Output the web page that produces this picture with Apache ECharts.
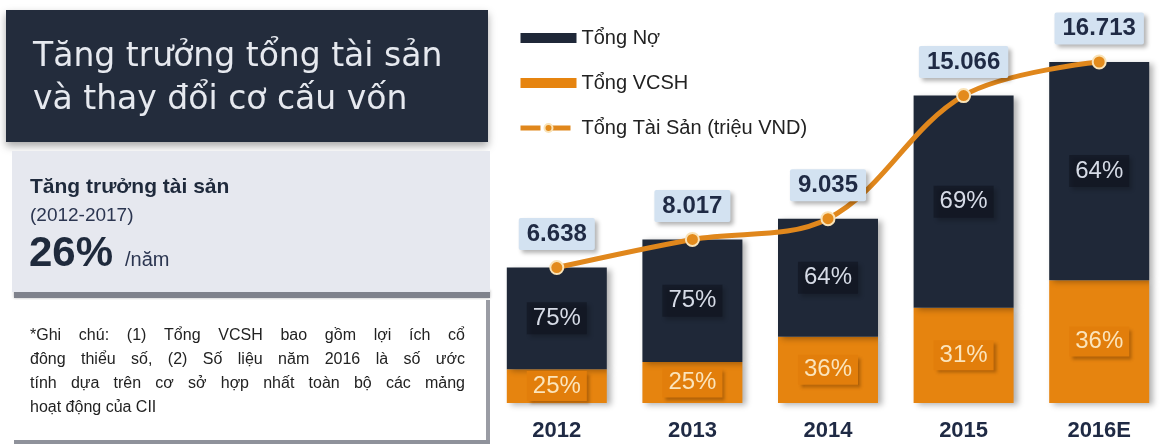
<!DOCTYPE html>
<html>
<head>
<meta charset="utf-8">
<script src="https://cdn.jsdelivr.net/npm/echarts@6/dist/echarts.min.js"></script>
<style>
  html, body { margin: 0; padding: 0; background: #fff; }
  #chart { width: 1167px; height: 446px; }
</style>
</head>
<body>
<div id="chart"></div>
<script>
// data
const years = ['2012', '2013', '2014', '2015', '2016E'];
const totalAssets = [6638, 8017, 9035, 15066, 16713];   // triệu VND
const debt = [4979, 6013, 5782, 10396, 10696];
const equity = [1659, 2004, 3253, 4670, 6017];
const debtPct = ['75%', '75%', '64%', '69%', '64%'];
const equityPct = ['25%', '25%', '36%', '31%', '36%'];

const noteLines = [
  '*Ghi chú: (1) Tổng VCSH bao gồm lợi ích cổ',
  'đông thiểu số, (2) Số liệu năm 2016 là số ước',
  'tính dựa trên cơ sở hợp nhất toàn bộ các mảng',
  'hoạt động của CII'
];

const NAVY = '#1f2838';
const ORANGE = '#e6840f';
const FONT = '"Liberation Sans", Arial, sans-serif';
const NOTE_FONT = '16px ' + FONT;

let chartDom = document.getElementById('chart');
let myChart = echarts.init(chartDom, null, { renderer: 'canvas' });

function fmtVN(v) {
  return (v / 1000).toFixed(3);
}

// justified note text: spread words of a line over the box width
let measureCtx = document.createElement('canvas').getContext('2d');
measureCtx.font = NOTE_FONT;
function noteLine(text, x, y, width, justify) {
  if (!justify) {
    return [{ type: 'text', left: x, top: y, z: 10, style: { text: text, fill: '#222', font: NOTE_FONT } }];
  }
  let words = text.split(' ');
  let wordW = words.map(function (w) { return measureCtx.measureText(w).width; });
  let total = wordW.reduce(function (a, b) { return a + b; }, 0);
  let gap = (width - total) / (words.length - 1);
  let cx = x;
  return words.map(function (w, i) {
    let el = { type: 'text', x: cx, y: y, z: 10, style: { text: w, fill: '#222', font: NOTE_FONT } };
    cx += wordW[i] + gap;
    return el;
  });
}

let noteTexts = [];
noteLines.forEach(function (t, i) {
  noteTexts = noteTexts.concat(noteLine(t, 30, 328 + i * 24, 435, i < noteLines.length - 1));
});

let option = {
  backgroundColor: '#fff',
  animation: false,
  textStyle: { fontFamily: FONT },
  legend: {
    orient: 'vertical',
    left: 513,
    top: 23,
    itemWidth: 56,
    itemHeight: 10,
    itemGap: 25,
    textStyle: { fontSize: 20, color: '#222', fontFamily: FONT },
    data: [
      { name: 'Tổng Nợ', icon: 'rect' },
      { name: 'Tổng VCSH', icon: 'rect' },
      { name: 'Tổng Tài Sản (triệu VND)', lineStyle: { type: 'dashed', width: 5 } }
    ]
  },
  grid: { left: 489, width: 690, top: 62, bottom: 43 },
  xAxis: {
    type: 'category',
    data: years,
    axisLine: { show: false },
    axisTick: { show: false },
    axisLabel: { margin: 17, fontSize: 22, fontWeight: 'bold', color: '#1f2a44', fontFamily: FONT }
  },
  yAxis: {
    type: 'value',
    min: 0,
    max: Math.max.apply(null, totalAssets),
    show: false,
    splitLine: { show: false }
  },
  series: [
    {
      name: 'Tổng VCSH',
      type: 'bar',
      stack: 'tong',
      barWidth: 100,
      data: equity,
      itemStyle: { color: ORANGE, shadowBlur: 6, shadowOffsetX: 4, shadowOffsetY: 2, shadowColor: 'rgba(0,0,0,0.3)' },
      label: {
        show: true, position: 'inside',
        formatter: function (p) { return equityPct[p.dataIndex]; },
        fontSize: 24, color: '#fbe4bb', fontFamily: FONT,
        backgroundColor: '#e27e0b', padding: [3, 6],
        shadowBlur: 3, shadowOffsetX: 3, shadowOffsetY: 3, shadowColor: 'rgba(110,55,0,0.45)'
      }
    },
    {
      name: 'Tổng Nợ',
      type: 'bar',
      stack: 'tong',
      barWidth: 100,
      data: debt,
      itemStyle: { color: NAVY, shadowBlur: 6, shadowOffsetX: 4, shadowOffsetY: 2, shadowColor: 'rgba(0,0,0,0.3)' },
      label: {
        show: true, position: 'inside',
        formatter: function (p) { return debtPct[p.dataIndex]; },
        fontSize: 24, color: '#d6dbe6', fontFamily: FONT,
        backgroundColor: 'rgba(14,19,30,0.55)', padding: [4, 6],
        shadowBlur: 4, shadowOffsetX: 3, shadowOffsetY: 3, shadowColor: 'rgba(0,0,0,0.35)'
      }
    },
    {
      name: 'Tổng Tài Sản (triệu VND)',
      type: 'line',
      data: totalAssets,
      smooth: 0.35,
      z: 5,
      symbol: 'circle',
      symbolSize: 13,
      lineStyle: { color: '#e0871c', width: 5 },
      itemStyle: { color: '#e38b1c', borderColor: '#f9e3b8', borderWidth: 2 },
      label: {
        show: true, position: 'top', distance: 10,
        formatter: function (p) { return fmtVN(p.value); },
        fontSize: 24, fontWeight: 'bold', color: '#1f2a44', fontFamily: FONT,
        backgroundColor: '#d3e2f1', padding: [4, 8], borderRadius: 2,
        shadowBlur: 4, shadowOffsetX: 3, shadowOffsetY: 3, shadowColor: 'rgba(0,0,0,0.3)'
      }
    }
  ],
  graphic: [
    // panel 1: title box
    {
      type: 'rect', shape: { x: 6, y: 10, width: 482, height: 132 },
      style: { fill: '#232c3c', shadowBlur: 8, shadowOffsetY: 4, shadowColor: 'rgba(0,0,0,0.35)' }
    },
    {
      type: 'text', left: 33, top: 41, z: 10,
      style: { text: 'Tăng trưởng tổng tài sản', fill: '#e6e9ef', font: '33px "DejaVu Sans", sans-serif' }
    },
    {
      type: 'text', left: 33, top: 84, z: 10,
      style: { text: 'và thay đổi cơ cấu vốn', fill: '#e6e9ef', font: '33px "DejaVu Sans", sans-serif' }
    },
    // panel 2: growth box
    {
      type: 'rect', shape: { x: 14, y: 290, width: 476, height: 8 },
      style: { fill: '#7f828c', shadowBlur: 3, shadowColor: 'rgba(0,0,0,0.3)' }
    },
    {
      type: 'rect', shape: { x: 12, y: 151, width: 478, height: 141 },
      style: { fill: '#e6e8ef' }
    },
    {
      type: 'text', left: 30, top: 177, z: 10,
      style: { text: 'Tăng trưởng tài sản', fill: '#1f2a3c', font: 'bold 21px ' + FONT }
    },
    {
      type: 'text', left: 30, top: 206, z: 10,
      style: { text: '(2012-2017)', fill: '#2b3550', font: '19px ' + FONT }
    },
    {
      type: 'text', left: 29, top: 233, z: 10,
      style: { text: '26%', fill: '#1f2a3c', font: 'bold 42px ' + FONT }
    },
    {
      type: 'text', left: 125, top: 250, z: 10,
      style: { text: '/năm', fill: '#2b3550', font: '20px ' + FONT }
    },
    // panel 3: notes
    {
      type: 'rect', shape: { x: 12, y: 300, width: 478, height: 143 },
      style: { fill: '#fff' }
    },
    {
      type: 'rect', shape: { x: 486, y: 300, width: 4, height: 144 },
      style: { fill: '#9a9ca4' }
    },
    {
      type: 'rect', shape: { x: 14, y: 440, width: 476, height: 4 },
      style: { fill: '#8f929b' }
    }
  ].concat(noteTexts)
};

myChart.setOption(option);
window.addEventListener('resize', function () {
  myChart.resize();
});
</script>
</body>
</html>
